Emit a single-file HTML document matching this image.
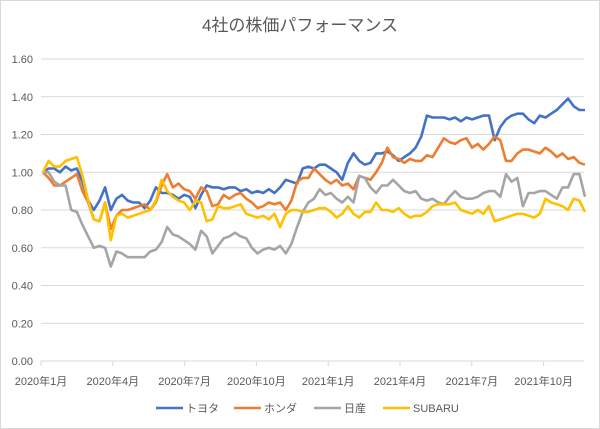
<!DOCTYPE html>
<html><head><meta charset="utf-8"><style>
body{margin:0;background:#fff}
svg{display:block;font-family:"Liberation Sans","Noto Sans CJK JP",sans-serif}
</style></head><body>
<svg id="chart" width="600" height="429" viewBox="0 0 600 429">
<rect x="0.5" y="0.5" width="599" height="428" fill="#fff" stroke="#d9d9d9"/>
<text x="300" y="31" text-anchor="middle" font-size="17" fill="#595959">4社の株価パフォーマンス</text>
<g id="grid"></g><g id="xaxis"></g><g id="series"></g><g id="legend"></g>
</svg>
<script>
const yTicks=[0,0.2,0.4,0.6,0.8,1.0,1.2,1.4,1.6];
const xLabels=["2020年1月","2020年4月","2020年7月","2020年10月","2021年1月","2021年4月","2021年7月","2021年10月"];
const seriesNames=["トヨタ","ホンダ","日産","SUBARU"];
const seriesColors=["#4472c4","#ed7d31","#a5a5a5","#ffc000"];
const toyota=[1.00,1.02,1.02,1.00,1.03,1.01,1.02,0.95,0.85,0.80,0.85,0.92,0.80,0.86,0.88,0.85,0.84,0.84,0.81,0.85,0.92,0.89,0.89,0.88,0.86,0.88,0.87,0.81,0.88,0.93,0.92,0.92,0.91,0.92,0.92,0.90,0.91,0.89,0.90,0.89,0.91,0.89,0.92,0.96,0.95,0.94,1.02,1.03,1.02,1.04,1.04,1.02,1.00,0.96,1.05,1.10,1.06,1.04,1.05,1.10,1.10,1.11,1.09,1.06,1.08,1.10,1.13,1.19,1.30,1.29,1.29,1.29,1.28,1.29,1.27,1.29,1.28,1.29,1.30,1.30,1.17,1.24,1.28,1.30,1.31,1.31,1.28,1.26,1.30,1.29,1.31,1.33,1.36,1.39,1.35,1.33,1.33];
const honda=[1.00,0.97,0.93,0.93,0.95,0.97,0.99,0.90,0.84,0.75,0.74,0.84,0.70,0.77,0.80,0.80,0.81,0.82,0.83,0.80,0.84,0.93,0.99,0.92,0.94,0.91,0.90,0.86,0.92,0.90,0.82,0.83,0.88,0.86,0.88,0.89,0.86,0.84,0.81,0.82,0.84,0.83,0.84,0.80,0.85,0.95,0.97,0.97,1.02,0.99,0.96,0.94,0.96,0.93,0.94,0.91,0.98,0.97,0.96,1.00,1.05,1.13,1.08,1.07,1.05,1.07,1.06,1.06,1.09,1.08,1.13,1.18,1.16,1.15,1.17,1.18,1.13,1.15,1.12,1.15,1.19,1.17,1.06,1.06,1.10,1.12,1.12,1.11,1.10,1.13,1.11,1.08,1.10,1.07,1.08,1.05,1.04];
const nissan=[1.00,1.00,0.95,0.93,0.93,0.80,0.79,0.72,0.66,0.60,0.61,0.60,0.50,0.58,0.57,0.55,0.55,0.55,0.55,0.58,0.59,0.63,0.71,0.67,0.66,0.64,0.62,0.59,0.69,0.66,0.57,0.61,0.65,0.66,0.68,0.66,0.65,0.60,0.57,0.59,0.60,0.59,0.61,0.57,0.62,0.71,0.79,0.84,0.86,0.91,0.88,0.89,0.86,0.84,0.87,0.84,0.98,0.97,0.92,0.89,0.93,0.93,0.96,0.93,0.90,0.89,0.90,0.86,0.85,0.86,0.84,0.83,0.87,0.90,0.87,0.86,0.86,0.87,0.89,0.90,0.90,0.87,0.99,0.95,0.97,0.82,0.89,0.89,0.90,0.90,0.88,0.86,0.92,0.92,0.99,0.99,0.87];
const subaru=[1.00,1.06,1.03,1.03,1.06,1.07,1.08,0.98,0.85,0.75,0.74,0.84,0.64,0.77,0.78,0.76,0.77,0.78,0.79,0.80,0.85,0.96,0.90,0.87,0.85,0.84,0.80,0.85,0.84,0.74,0.75,0.82,0.81,0.81,0.82,0.83,0.78,0.77,0.76,0.77,0.75,0.78,0.71,0.78,0.80,0.80,0.79,0.79,0.80,0.81,0.81,0.79,0.76,0.78,0.82,0.78,0.76,0.79,0.79,0.84,0.80,0.80,0.79,0.81,0.78,0.76,0.77,0.77,0.79,0.82,0.83,0.83,0.83,0.84,0.80,0.79,0.78,0.80,0.78,0.82,0.74,0.75,0.76,0.77,0.78,0.78,0.77,0.76,0.78,0.86,0.84,0.83,0.82,0.80,0.86,0.85,0.79];
const allSeries=[toyota,honda,nissan,subaru];
const NS="http://www.w3.org/2000/svg";
const X0=41,X1=584,Y0=361,Y1=59;
const yScale=v=>Y0-(v/1.6)*(Y0-Y1);
const xScale=f=>43+f*(585-43);
const mk=(t,a)=>{const e=document.createElementNS(NS,t);for(const k in a)e.setAttribute(k,a[k]);return e;};
const grid=document.getElementById('grid');
yTicks.forEach(v=>{
  const l=mk('line',{x1:X0,x2:X1,y1:yScale(v),y2:yScale(v),stroke:'#d9d9d9','stroke-width':1});
  
  
  grid.appendChild(l);
  const t=mk('text',{x:33,y:yScale(v)+4,'text-anchor':'end','font-size':11,fill:'#595959'});
  t.textContent=v.toFixed(2);
  
  
  grid.appendChild(t);
});
const xa=document.getElementById('xaxis');
xLabels.forEach((s,i)=>{
  const x=X0+i*71.8;
  const tk=mk('line',{x1:x,x2:x,y1:Y0,y2:Y0+5,stroke:'#d9d9d9'});
  
  
  xa.appendChild(tk);
  const t=mk('text',{x:x,y:385,'text-anchor':'middle','font-size':11,fill:'#595959'});
  t.textContent=s;
  
  
  xa.appendChild(t);
});
const sg=document.getElementById('series');
allSeries.forEach((d,si)=>{
  const pts=d.map((v,i)=>xScale(i/(d.length-1)).toFixed(1)+','+yScale(v).toFixed(1)).join(' ');
  const p=mk('polyline',{points:pts,fill:'none',stroke:seriesColors[si],'stroke-width':2.6,'stroke-linejoin':'round'});
  
  
  sg.appendChild(p);
});
const lg=document.getElementById('legend');
const lx=[156,234,314,383];
seriesNames.forEach((n,i)=>{
  const l=mk('line',{x1:lx[i],x2:lx[i]+27,y1:408,y2:408,stroke:seriesColors[i],'stroke-width':2.6});
  
  
  lg.appendChild(l);
  const t=mk('text',{x:lx[i]+30,y:412,'font-size':11,fill:'#595959'});
  t.textContent=n;
  
  
  lg.appendChild(t);
});
</script>
</body></html>
